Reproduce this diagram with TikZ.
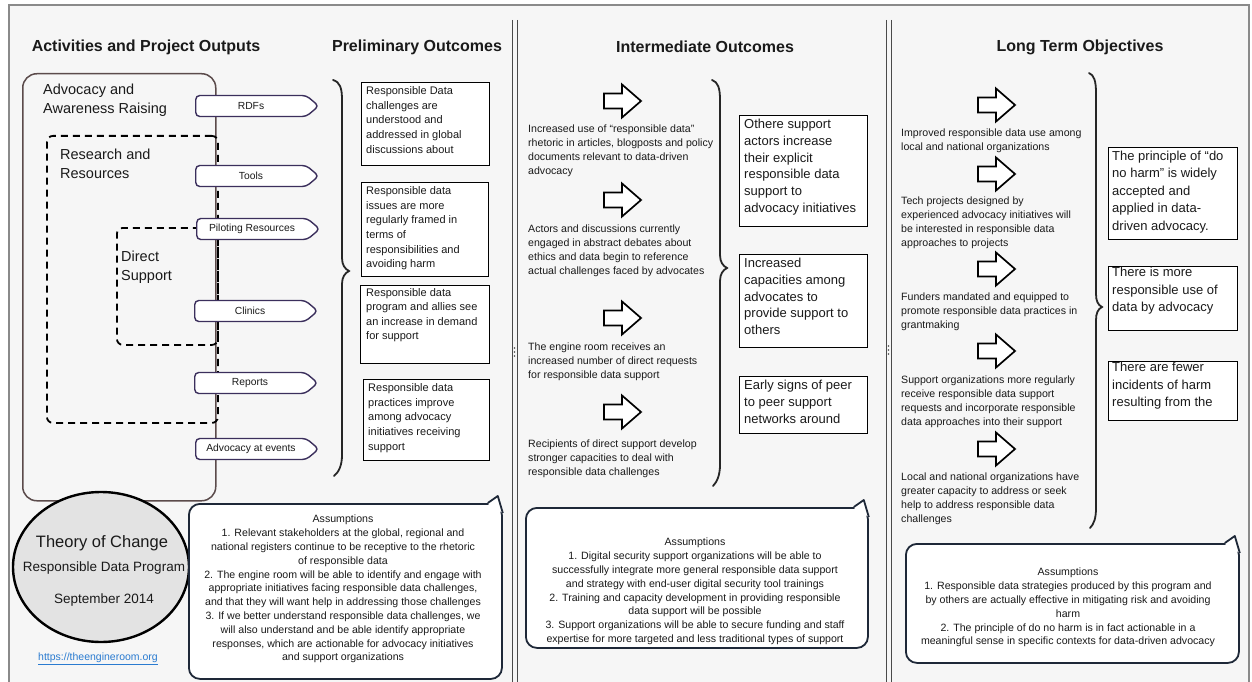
\documentclass[tikz,border=0pt]{standalone}
\usepackage{fontspec}
\setmainfont{Liberation Sans}
\usetikzlibrary{shapes.symbols,shapes.geometric}
\definecolor{bgc}{HTML}{F6F6F6}
\definecolor{framec}{HTML}{8A8A8A}
\definecolor{sepc}{HTML}{4A4A4A}
\definecolor{tagc}{HTML}{3B2F5C}
\definecolor{advc}{HTML}{5B4B4B}
\definecolor{bubc}{HTML}{1E2838}
\definecolor{circfill}{HTML}{E3E3E3}
\definecolor{linkc}{HTML}{2A7BD0}
\definecolor{txt}{HTML}{1A1A1A}
\begin{document}
\begin{tikzpicture}[x=1pt,y=-1pt,
  every node/.style={text=txt},
  title/.style={font=\bfseries\fontsize{16}{19}\selectfont, inner sep=0},
  lbl/.style={font=\fontsize{14.5}{19}\selectfont, align=left, inner sep=0, anchor=north west},
  small/.style={font=\fontsize{10.6}{14}\selectfont, align=left, inner sep=0, anchor=north west},
  ptext/.style={font=\fontsize{11}{14.6}\selectfont, align=left, inner sep=0, anchor=north west},
  itext/.style={font=\fontsize{13}{16.7}\selectfont, align=left, inner sep=0, anchor=north west},
  ltext/.style={font=\fontsize{13}{17.5}\selectfont, align=left, inner sep=0, anchor=north west},
  asmtext/.style={font=\fontsize{10.6}{13.8}\selectfont, align=center, inner sep=0, anchor=north},
  outbox/.style={draw=black, line width=1.4pt, fill=white, inner sep=0, anchor=north west},
  advbox/.style={draw=advc, line width=1.5pt, rounded corners=14pt, inner sep=0, anchor=north west},
  dbox/.style={draw=black, line width=1.8pt, dash pattern=on 7pt off 5pt, rounded corners=6pt, inner sep=0, anchor=north west},
  tag/.style={shape=signal, signal to=east, signal pointer angle=80, draw=tagc, line width=1.4pt, fill=white,
    minimum width=123pt, minimum height=21pt, inner sep=0, font=\fontsize{10.3}{12}\selectfont, rounded corners=4pt},
  bubble/.style={draw=bubc, line width=1.8pt, fill=white, rounded corners=11pt, inner sep=0, anchor=north west},
  tailline/.style={draw=bubc, line width=1.8pt, line join=round},
  brace/.style={draw=black!85, line width=1.8pt, line cap=round},
  sepline/.style={draw=sepc, line width=1pt},
  blockarrow/.pic={\draw[line width=1.7pt, fill=white, line join=miter]
     (-18,-7.5) -- (0,-7.5) -- (0,-16.5) -- (19,0) -- (0,16.5) -- (0,7.5) -- (-18,7.5) -- cycle;}
]
\useasboundingbox (0,0) rectangle (1252,682);
\fill[white] (0,0) rectangle (1252,682);
\fill[bgc] (9,5) rectangle (1249,682);
\draw[framec, line width=1.2pt] (9,690) -- (9,5) -- (1249,5) -- (1249,690);

% separators
\draw[sepline] (512,20) -- (512,682) (517,20) -- (517,682);
\draw[sepline] (886,20) -- (886,682) (891,20) -- (891,682);
\fill[sepc] (514.5,348) circle (0.8pt) (514.5,352) circle (0.8pt) (514.5,356) circle (0.8pt);
\fill[sepc] (888.5,346) circle (0.8pt) (888.5,350) circle (0.8pt) (888.5,354) circle (0.8pt);

% titles
\node[title] (h1) at (146,47) {Activities and Project Outputs};
\node[title] (h2) at (417,47) {Preliminary Outcomes};
\node[title] (h3) at (705,47) {Intermediate Outcomes};
\node[title] (h4) at (1080,47) {Long Term Objectives};

% activities
\node[advbox, minimum width=193pt, minimum height=427pt] (adv) at (22,73) {};
\node[lbl] (advt) at (43,84) {Advocacy and\\Awareness Raising};
\node[dbox, minimum width=171pt, minimum height=287pt] (res) at (46,135) {};
\node[lbl] (rest) at (60,149) {Research and\\Resources};
\node[dbox, minimum width=101pt, minimum height=117pt] (dir) at (116,227) {};
\node[lbl] (dirt) at (121,251) {Direct\\Support};

\node[tag] (t1) at (251,106) {RDFs};
\node[tag] (t2) at (251,176) {Tools};
\node[tag] (t3) at (252,229) {Piloting Resources};
\node[tag] (t4) at (250,311) {Clinics};
\node[tag] (t5) at (250,383) {Reports};
\node[tag] (t6) at (251,449) {Advocacy at events};

% preliminary outcomes
\draw[brace] (333,80) .. controls (340,82) and (342,88) .. (342,100) -- (342,258)
  .. controls (342,265) and (345,269) .. (349,271) .. controls (345,273) and (342,277) .. (342,284)
  -- (342,455) .. controls (342,465) and (339,472) .. (334,476);
\node[outbox, minimum width=128pt, minimum height=83pt] (p1) at (361,82) {};
\node[ptext] (p1t) at (366,86.5) {Responsible Data\\challenges are\\understood and\\addressed in global\\discussions about};
\node[outbox, minimum width=127pt, minimum height=94pt] (p2) at (361,182) {};
\node[ptext] (p2t) at (366,186.5) {Responsible data\\issues are more\\regularly framed in\\terms of\\responsibilities and\\avoiding harm};
\node[outbox, minimum width=129pt, minimum height=78pt] (p3) at (360,285) {};
\node[ptext] (p3t) at (366,288) {Responsible data\\program and allies see\\an increase in demand\\for support};
\node[outbox, minimum width=126pt, minimum height=81pt] (p4) at (363,379) {};
\node[ptext] (p4t) at (368,383.5) {Responsible data\\practices improve\\among advocacy\\initiatives receiving\\support};

% intermediate outcomes
\pic (ia1) at (622,101) {blockarrow};
\node[small] (it1) at (528,125) {Increased use of “responsible data”\\rhetoric in articles, blogposts and policy\\documents relevant to data-driven\\advocacy};
\pic (ia2) at (622,200) {blockarrow};
\node[small] (it2) at (528,225) {Actors and discussions currently\\engaged in abstract debates about\\ethics and data begin to reference\\actual challenges faced by advocates};
\pic (ia3) at (622,318) {blockarrow};
\node[small] (it3) at (528,343) {The engine room receives an\\increased number of direct requests\\for responsible data support};
\pic (ia4) at (622,412) {blockarrow};
\node[small] (it4) at (528,440) {Recipients of direct support develop\\stronger capacities to deal with\\responsible data challenges};

\draw[brace] (712,80) .. controls (718,82) and (720,88) .. (720,100) -- (720,255)
  .. controls (720,262) and (723,266) .. (727,268) .. controls (723,270) and (720,274) .. (720,281)
  -- (720,465) .. controls (720,475) and (717,482) .. (713,486);
\node[outbox, minimum width=128pt, minimum height=111pt] (i1) at (739,115) {};
\node[itext] (i1t) at (744,119) {Othere support\\actors increase\\their explicit\\responsible data\\support to\\advocacy initiatives};
\node[outbox, minimum width=128pt, minimum height=93pt] (i2) at (739,254) {};
\node[itext] (i2t) at (744,258) {Increased\\capacities among\\advocates to\\provide support to\\others};
\node[outbox, minimum width=128pt, minimum height=57pt] (i3) at (739,376) {};
\node[itext] (i3t) at (744,380) {Early signs of peer\\to peer support\\networks around};

% long term objectives
\pic (la1) at (996,105) {blockarrow};
\node[small] (lt1) at (901,129) {Improved responsible data use among\\local and national organizations};
\pic (la2) at (996,174) {blockarrow};
\node[small] (lt2) at (901,197) {Tech projects designed by\\experienced advocacy initiatives will\\be interested in responsible data\\approaches to projects};
\pic (la3) at (996,269) {blockarrow};
\node[small] (lt3) at (901,293) {Funders mandated and equipped to\\promote responsible data practices in\\grantmaking};
\pic (la4) at (996,351) {blockarrow};
\node[small] (lt4) at (901,376) {Support organizations more regularly\\receive responsible data support\\requests and incorporate responsible\\data approaches into their support};
\pic (la5) at (996,449) {blockarrow};
\node[small] (lt5) at (901,473) {Local and national organizations have\\greater capacity to address or seek\\help to address responsible data\\challenges};

\draw[brace] (1089,73) .. controls (1094,75) and (1096,81) .. (1096,93) -- (1096,294)
  .. controls (1096,301) and (1098,305) .. (1102,307) .. controls (1098,309) and (1096,313) .. (1096,320)
  -- (1096,508) .. controls (1096,518) and (1094,524) .. (1090,528);
\node[outbox, minimum width=129pt, minimum height=92pt] (l1) at (1108,147) {};
\node[ltext] (l1t) at (1112,150.5) {The principle of “do\\no harm” is widely\\accepted and\\applied in data-\\driven advocacy.};
\node[outbox, minimum width=129pt, minimum height=64pt] (l2) at (1108,266) {};
\node[ltext] (l2t) at (1112,267) {There is more\\responsible use of\\data by advocacy};
\node[outbox, minimum width=129pt, minimum height=59pt] (l3) at (1108,361) {};
\node[ltext] (l3t) at (1112,362) {There are fewer\\incidents of harm\\resulting from the};

% theory of change circle
\node[ellipse, draw=black, line width=2.4pt, fill=circfill, minimum width=176pt, minimum height=150pt, inner sep=0] (toc) at (101,567) {};
\node[font=\fontsize{16.5}{19}\selectfont, inner sep=0] (toc1) at (102,543) {Theory of Change};
\node[font=\fontsize{13.5}{16}\selectfont, inner sep=0] (toc2) at (104,568) {Responsible Data Program};
\node[font=\fontsize{13.5}{16}\selectfont, inner sep=0] (toc3) at (104,600) {September 2014};
\node[font=\fontsize{10.5}{12}\selectfont, text=linkc, inner sep=0] (link) at (98,659) {\underline{https://theengineroom.org}};

% assumption bubbles
\node[bubble, minimum width=313pt, minimum height=175pt] (b1) at (188,503) {};
\fill[white] ([shift={(-15,1)}]b1.north east) -- ([shift={(-5,-7)}]b1.north east) -- ([shift={(0,10)}]b1.north east) -- cycle;
\draw[tailline] ([shift={(-15,0)}]b1.north east) -- ([shift={(-5,-7)}]b1.north east) -- ([shift={(0,10)}]b1.north east);
\node[asmtext] (b1t) at (343,515) {Assumptions\\1. Relevant stakeholders at the global, regional and\\national registers continue to be receptive to the rhetoric\\of responsible data\\2. The engine room will be able to identify and engage with\\appropriate initiatives facing responsible data challenges,\\and that they will want help in addressing those challenges\\3. If we better understand responsible data challenges, we\\will also understand and be able identify appropriate\\responses, which are actionable for advocacy initiatives\\and support organizations};

\node[bubble, minimum width=342pt, minimum height=140pt] (b2) at (525,507) {};
\fill[white] ([shift={(-15,1)}]b2.north east) -- ([shift={(-5,-7)}]b2.north east) -- ([shift={(0,10)}]b2.north east) -- cycle;
\draw[tailline] ([shift={(-15,0)}]b2.north east) -- ([shift={(-5,-7)}]b2.north east) -- ([shift={(0,10)}]b2.north east);
\node[asmtext] (b2t) at (695,538) {Assumptions\\1. Digital security support organizations will be able to\\successfully integrate more general responsible data support\\and strategy with end-user digital security tool trainings\\2. Training and capacity development in providing responsible\\data support will be possible\\3. Support organizations will be able to secure funding and staff\\expertise for more targeted and less traditional types of support};

\node[bubble, minimum width=333pt, minimum height=119pt] (b3) at (905,543) {};
\fill[white] ([shift={(-15,1)}]b3.north east) -- ([shift={(-5,-7)}]b3.north east) -- ([shift={(0,10)}]b3.north east) -- cycle;
\draw[tailline] ([shift={(-15,0)}]b3.north east) -- ([shift={(-5,-7)}]b3.north east) -- ([shift={(0,10)}]b3.north east);
\node[asmtext] (b3t) at (1068,568) {Assumptions\\1. Responsible data strategies produced by this program and\\by others are actually effective in mitigating risk and avoiding\\harm\\2. The principle of do no harm is in fact actionable in a\\meaningful sense in specific contexts for data-driven advocacy};
\end{tikzpicture}
\end{document}
